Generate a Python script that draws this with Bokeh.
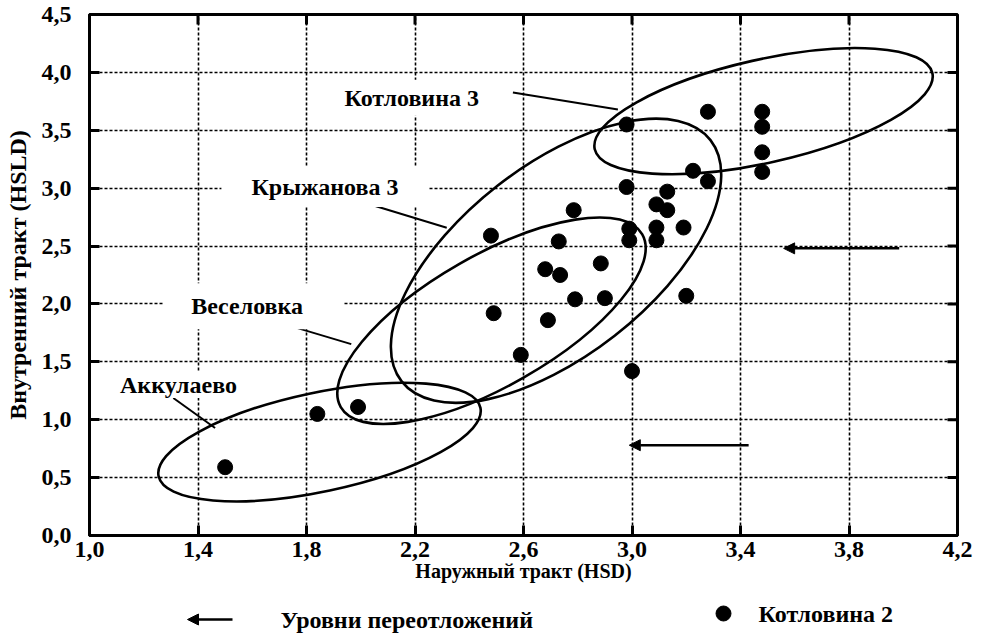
import math
from bokeh.plotting import figure
from bokeh.models import (Range1d, LinearAxis, FixedTicker, Label, Arrow, NormalHead,
                          ColumnDataSource, CustomJSTickFormatter)
from bokeh.layouts import column
from bokeh.embed import file_html
from bokeh.resources import INLINE

# ---------------- data ----------------
x_ticks = [1.0, 1.4, 1.8, 2.2, 2.6, 3.0, 3.4, 3.8, 4.2]
x_tick_labels = ["1,0", "1,4", "1,8", "2,2", "2,6", "3,0", "3,4", "3,8", "4,2"]
y_ticks = [0.0, 0.5, 1.0, 1.5, 2.0, 2.5, 3.0, 3.5, 4.0, 4.5]
y_tick_labels = ["0,0", "0,5", "1,0", "1,5", "2,0", "2,5", "3,0", "3,5", "4,0", "4,5"]
x_min, x_max = 1.0, 4.2
y_min, y_max = 0.0, 4.5

x_title = "Наружный тракт (HSD)"
y_title = "Внутренний тракт (HSLD)"

# Котловина 2 points (HSD, HSLD)
kotl2_hsd = [1.50, 1.84, 1.99,
             2.48, 2.49, 2.59, 2.68, 2.69, 2.73, 2.735, 2.785, 2.79, 2.885, 2.90,
             2.98, 2.98, 2.99, 2.99, 3.00, 3.09, 3.09, 3.09, 3.13, 3.13, 3.19, 3.20,
             3.225, 3.28, 3.28, 3.48, 3.48, 3.48, 3.48]
kotl2_hsld = [0.59, 1.05, 1.11,
              2.59, 1.92, 1.56, 2.30, 1.86, 2.54, 2.25, 2.81, 2.04, 2.35, 2.05,
              3.55, 3.01, 2.65, 2.55, 1.42, 2.86, 2.66, 2.55, 2.97, 2.81, 2.66, 2.07,
              3.15, 3.66, 3.06, 3.66, 3.53, 3.31, 3.14]

# group envelopes (ellipses)
group_names = ["Аккулаево", "Веселовка", "Крыжанова 3", "Котловина 3"]
group_cx = [1.848, 2.482, 2.72, 3.485]
group_cy = [0.807, 1.855, 2.373, 3.665]
group_w = [1.213, 1.281, 1.445, 1.276]
group_h = [0.855, 1.128, 1.644, 0.891]
group_angle_deg = [12.0, 29.8, 38.0, 12.7]

# group labels and their leader lines
label_x = [1.328, 1.603, 1.868, 2.188]
label_y = [1.30, 1.98, 3.01, 3.78]
leader_x0 = [1.309, 1.659, 1.996, 2.561]
leader_y0 = [1.188, 1.867, 2.887, 3.826]
leader_x1 = [1.463, 1.965, 2.317, 2.948]
leader_y1 = [0.928, 1.653, 2.658, 3.680]

# redeposition levels (arrows)
redep_x_start = [3.985, 3.43]
redep_x_end = [3.559, 2.99]
redep_y = [2.48, 0.78]

legend_arrow_text = "Уровни переотложений"
legend_point_text = "Котловина 2"

# ---------------- styling ----------------
FONT = "Liberation Serif"
TICK_SIZE = "24px"
XTITLE_SIZE = "20px"
YTITLE_SIZE = "24px"
LABEL_SIZE = "24px"
BORDER_L, BORDER_R = 89, 23
FIG_W = 980
label_pads = [dict(left=4, right=4, top=0, bottom=0),
              dict(left=28, right=40, top=10, bottom=10),
              dict(left=30, right=30, top=7, bottom=7),
              dict(left=18, right=18, top=5, bottom=5)]


def make_formatter(tvals, tlabels):
    return CustomJSTickFormatter(args=dict(tvals=tvals, tlabels=tlabels), code="""
        let best = 0, d = Infinity;
        for (let i = 0; i < tvals.length; i++) {
            const dd = Math.abs(tvals[i] - tick);
            if (dd < d) { d = dd; best = i; }
        }
        return tlabels[best];
    """)


p = figure(width=FIG_W, height=595,
           x_range=Range1d(x_min, x_max), y_range=Range1d(y_min, y_max),
           output_backend="svg", toolbar_location=None,
           min_border_left=BORDER_L, min_border_right=BORDER_R, min_border_top=14, min_border_bottom=60,
           x_axis_location=None, y_axis_location=None)
p.outline_line_color = "black"
p.outline_line_width = 3
p.background_fill_color = "white"
p.border_fill_color = "white"

xt = FixedTicker(ticks=x_ticks)
yt = FixedTicker(ticks=y_ticks)


def style_axis(ax):
    ax.axis_line_width = 3
    ax.axis_line_color = "black"
    ax.major_tick_in = 10
    ax.major_tick_out = 0
    ax.major_tick_line_width = 3
    ax.major_tick_line_color = "black"
    ax.minor_tick_line_color = None
    ax.major_label_text_font = FONT
    ax.major_label_text_font_size = TICK_SIZE
    ax.major_label_text_font_style = "bold"
    ax.major_label_text_color = "black"
    ax.axis_label_text_font = FONT
    ax.axis_label_text_font_style = "bold"
    ax.axis_label_text_color = "black"


bottom = LinearAxis(ticker=xt, formatter=make_formatter(x_ticks, x_tick_labels), axis_label=x_title)
style_axis(bottom)
bottom.major_label_standoff = 6
bottom.axis_label_text_font_size = XTITLE_SIZE
bottom.axis_label_standoff = 0
p.add_layout(bottom, "below")

left = LinearAxis(ticker=yt, formatter=make_formatter(y_ticks, y_tick_labels), axis_label=y_title)
style_axis(left)
left.major_label_standoff = 18
left.axis_label_text_font_size = YTITLE_SIZE
left.axis_label_standoff = 8
p.add_layout(left, "left")

# inward ticks on the top and right edges of the frame (half of each dash is clipped away)
p.scatter(x_ticks, [y_max] * len(x_ticks), marker="dash", angle=math.pi / 2, size=20,
          line_color="black", line_width=3)
p.scatter([x_max] * len(y_ticks), y_ticks, marker="dash", size=20,
          line_color="black", line_width=3)

p.xgrid.ticker = xt
p.ygrid.ticker = yt
for g in (p.xgrid, p.ygrid):
    g.grid_line_color = "black"
    g.grid_line_width = 1.6
    g.grid_line_dash = "3 2"

# ellipses
ell_src = ColumnDataSource(dict(x=group_cx, y=group_cy, w=group_w, h=group_h,
                                a=[math.radians(d) for d in group_angle_deg]))
p.ellipse(x="x", y="y", width="w", height="h", angle="a", source=ell_src,
          fill_color=None, line_color="black", line_width=2.6)

# leader lines
p.segment(x0=leader_x0, y0=leader_y0, x1=leader_x1, y1=leader_y1,
          line_color="black", line_width=2)

# points
p.scatter(kotl2_hsd, kotl2_hsld, size=15, marker="circle",
          fill_color="black", line_color="black")

# arrows
arr_src = ColumnDataSource(dict(xs=redep_x_start, xe=redep_x_end, y=redep_y))
p.add_layout(Arrow(end=NormalHead(size=11, fill_color="black", line_color="black"),
                   x_start="xs", y_start="y", x_end="xe", y_end="y",
                   source=arr_src, line_color="black", line_width=2.5))

# labels
for name, lx, ly, pad in zip(group_names, label_x, label_y, label_pads):
    p.add_layout(Label(x=lx, y=ly, text=name, text_align="center", text_baseline="middle",
                       text_font=FONT, text_font_size=LABEL_SIZE, text_font_style="bold",
                       text_color="black", background_fill_color="white", padding=pad))

# ---------------- legend row (coordinates = page pixels) ----------------
lg = figure(width=FIG_W, height=38, x_range=Range1d(BORDER_L, FIG_W - BORDER_R), y_range=Range1d(0, 38),
            output_backend="svg", toolbar_location=None,
            min_border_left=BORDER_L, min_border_right=BORDER_R, min_border_top=0, min_border_bottom=0,
            x_axis_location=None, y_axis_location=None)
lg.outline_line_color = None
lg.xgrid.visible = False
lg.ygrid.visible = False
lg.add_layout(Arrow(end=NormalHead(size=11, fill_color="black", line_color="black"),
                    x_start=232, y_start=14, x_end=187, y_end=14,
                    line_color="black", line_width=2.5))
lg.add_layout(Label(x=280, y=14, text=legend_arrow_text, text_align="left", text_baseline="middle",
                    text_font=FONT, text_font_size=LABEL_SIZE, text_font_style="bold",
                    text_color="black"))
lg.scatter([723], [20], size=15, marker="circle", fill_color="black", line_color="black")
lg.add_layout(Label(x=758, y=20, text=legend_point_text, text_align="left", text_baseline="middle",
                    text_font=FONT, text_font_size=LABEL_SIZE, text_font_style="bold",
                    text_color="black"))

layout = column(p, lg, spacing=0)
open("out.html", "w").write(file_html(layout, INLINE))
